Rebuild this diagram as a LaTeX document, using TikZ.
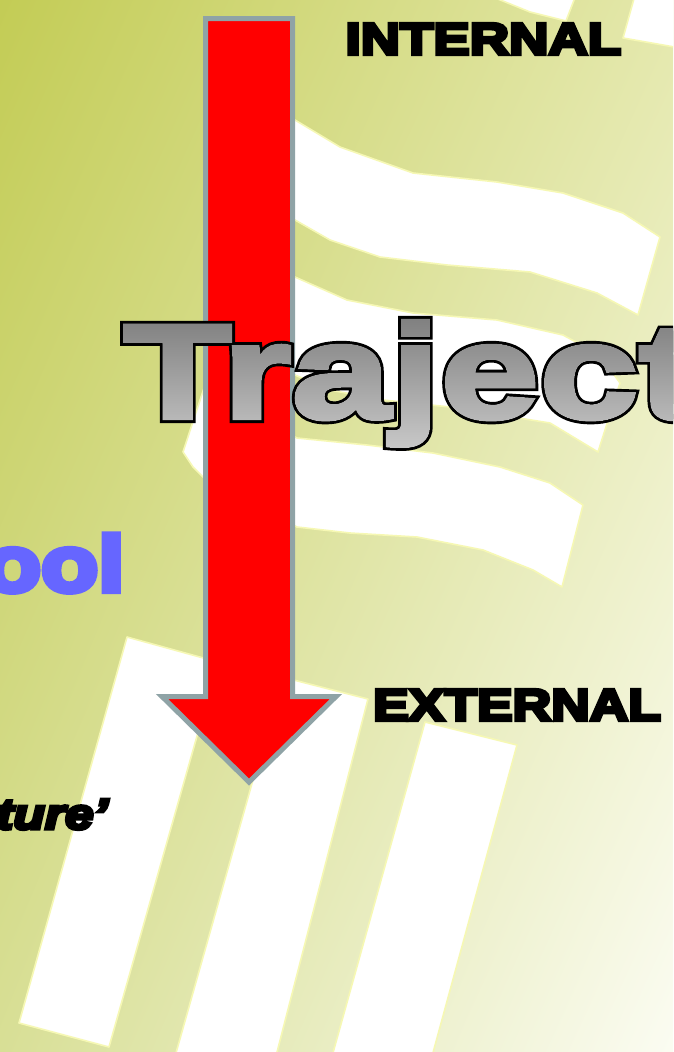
\documentclass[tikz,border=0pt]{standalone}
\usepackage{fontspec}
\usetikzlibrary{fadings,shadings}
\newfontfamily\heavyfont{Liberation Sans}[FakeBold=8,FakeStretch=1.2]
\newfontfamily\heavyfontwide{Liberation Sans}[FakeBold=8,FakeStretch=1.225]
\newfontfamily\trajoutfont{Liberation Sans}[FakeBold=7.5,FakeStretch=1.33]
\newfontfamily\trajinfont{Liberation Sans}[FakeBold=3.5,FakeStretch=1.33]
\definecolor{bgTL}{RGB}{195,204,85}
\definecolor{bgTR}{RGB}{228,232,172}
\definecolor{bgBL}{RGB}{216,223,150}
\definecolor{bgBR}{RGB}{251,252,242}
\definecolor{glow}{RGB}{246,248,180}
\definecolor{arrowedge}{RGB}{143,163,166}
\definecolor{arrowred}{RGB}{255,0,0}
\definecolor{oolblue}{RGB}{102,102,255}
\definecolor{trajtop}{RGB}{118,118,118}
\definecolor{trajbot}{RGB}{212,212,212}
\tikzset{
  band/.style={fill=white, draw=glow, line width=1.6pt, line join=round},
  arrowshape/.style={fill=arrowred, draw=arrowedge, line width=5pt, line join=miter},
  heavylabel/.style={inner sep=0pt, anchor=base west, text=black,
    font=\heavyfont\bfseries\fontsize{44.5}{50}\selectfont},
}
\begin{tikzfadingfrompicture}[name=trajfade,x=1pt,y=-1pt]
  \useasboundingbox (-286.5,-85) rectangle (286.5,85);
  \node[inner sep=0pt, anchor=base west, text=white,
    font=\trajinfont\bfseries\fontsize{134}{140}\selectfont] (trajmask) at (-263.5,33) {Traject};
\end{tikzfadingfrompicture}
\begin{document}
\begin{tikzpicture}[x=1pt,y=-1pt]
\useasboundingbox (0,0) rectangle (673,1052);
\begin{scope}
\clip (0,0) rectangle (673,1052);
\shade[upper left=bgTL, upper right=bgTR, lower left=bgBL, lower right=bgBR] (0,0) rectangle (673,1052);
% ribbons at the top right
\path[band] (488,-5) -- (576,-5) -- (566,21) -- (530,12) -- cycle;
\path[band] (635,-5) -- (680,-5) -- (680,48) -- (623,38) -- cycle;
\path[band] (255,96) -- (295,120) -- (340,147) -- (413,173) -- (497,182) -- (563,193) -- (623,213) -- (660,237)
  -- (638,315) -- (597,293) -- (530,272) -- (447,265) -- (380,257) -- (330,240) -- (295,220) -- (245,192) -- cycle;
\path[band] (250,250) -- (295,277) -- (347,300) -- (413,313) -- (497,320) -- (563,335) -- (600,355) -- (620,383)
  -- (598,452) -- (550,423) -- (450,407) -- (383,400) -- (330,390) -- (295,375) -- (245,345) -- cycle;
\path[band] (205,385) -- (250,412) -- (297,438) -- (367,445) -- (433,453) -- (500,467) -- (550,483) -- (583,505)
  -- (562,587) -- (533,570) -- (483,550) -- (417,537) -- (350,533) -- (297,527) -- (250,503) -- (203,477)
  -- (193,467) -- (183,452) -- cycle;
% slanted strips at the bottom
\path[band] (127,637) -- (218,662) -- (109,1047) -- (19,1023) -- cycle;
\path[band] (282,677) -- (368,699) -- (275,1060) -- (174,1060) -- cycle;
\path[band] (425,722) -- (517,745) -- (431,1060) -- (331,1060) -- cycle;
% arrow
\path[arrowshape] (205.5,18.5) -- (292.5,18.5) -- (292.5,696.5) -- (336,696.5) -- (249,782)
  -- (162,696.5) -- (205.5,696.5) -- cycle;
% texts
\node[heavylabel, font=\heavyfontwide\bfseries\fontsize{44.5}{50}\selectfont] (internal) at (345.4,54.3) {INTERNAL};
\node[heavylabel] (external) at (373,720.3) {EXTERNAL};
\node[inner sep=0pt, anchor=base east, text=oolblue,
  font=\heavyfont\bfseries\fontsize{78}{80}\selectfont] (ool) at (124.5,591) {ool};
\node[inner sep=0pt, anchor=base west, text=black,
  font=\heavyfont\bfseries\itshape\fontsize{43}{46}\selectfont] (ture) at (-4,829) {ture’};
\node[inner sep=0pt, anchor=base west, text=black,
  font=\trajoutfont\bfseries\fontsize{134}{140}\selectfont] (trajout) at (123,418) {Traject};
\begin{scope}[transform canvas={shift={(386.5,385)}}]
\shade[top color=trajtop, bottom color=trajbot, path fading=trajfade, fit fading=false]
  (-286.5,-85) rectangle (286.5,85);
\end{scope}
\end{scope}
\end{tikzpicture}
\end{document}
